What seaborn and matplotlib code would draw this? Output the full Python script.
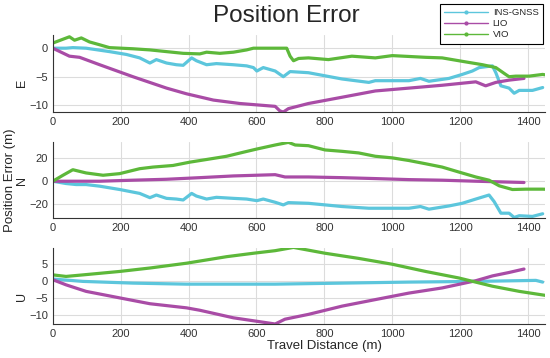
import pandas as pd
import seaborn as sns
from matplotlib import pyplot as plt
from matplotlib.lines import Line2D

methods = ['INS-GNSS', 'LIO', 'VIO']
colors = ['#5cc6dc', '#a94ca6', '#5db83a']

# E panel
e_ins_x = [0, 39, 59, 98, 167, 217, 256, 286, 305, 335, 364, 384, 409, 423, 453, 482, 532, 571, 591, 601, 620,
           655, 679, 699, 753, 852, 931, 950, 1049, 1083, 1108, 1167, 1206, 1236, 1256, 1295, 1305, 1320, 1344,
           1359, 1374, 1413, 1443]
e_ins_y = [0, 0, 0.1, 0, -0.6, -1.1, -1.7, -2.6, -2.0, -2.6, -2.9, -3.0, -1.7, -2.2, -2.9, -2.7, -2.9, -3.1, -3.4,
           -4.0, -3.4, -4.0, -5.0, -4.1, -4.3, -5.4, -6.0, -5.7, -5.7, -5.3, -5.8, -5.3, -4.6, -4.0, -3.4, -3.1,
           -4.3, -6.6, -7.0, -7.9, -7.4, -7.4, -6.9]
e_lio_x = [0, 49, 79, 138, 236, 335, 394, 473, 551, 655, 669, 679, 694, 753, 852, 950, 1049, 1147, 1246, 1275,
           1305, 1344, 1388]
e_lio_y = [0, -1.4, -1.6, -2.9, -5.0, -7.0, -8.0, -9.1, -9.7, -10.2, -11.0, -11.2, -10.6, -9.7, -8.6, -7.5, -7.0,
           -6.5, -5.9, -6.6, -6.0, -5.6, -5.3]
e_vio_x = [0, 49, 64, 84, 108, 138, 167, 236, 286, 335, 384, 433, 453, 492, 532, 571, 591, 655, 689, 699, 709,
           724, 753, 812, 881, 950, 1000, 1098, 1147, 1206, 1266, 1305, 1334, 1344, 1364, 1403, 1443, 1453]
e_vio_y = [0.9, 2.0, 1.4, 1.8, 1.1, 0.6, 0.1, -0.1, -0.3, -0.6, -0.9, -1.0, -0.7, -0.9, -0.7, -0.3, 0, 0, 0, -1.4,
           -2.2, -1.8, -1.7, -2.0, -1.4, -1.7, -1.3, -1.6, -1.7, -2.3, -2.9, -3.4, -4.6, -5.0, -4.9, -4.9, -4.6, -4.7]

# N panel
n_ins_x = [0, 39, 69, 98, 138, 197, 256, 286, 305, 335, 364, 384, 409, 423, 453, 482, 532, 571, 601, 620, 655,
           679, 694, 753, 852, 931, 1049, 1083, 1108, 1167, 1206, 1246, 1285, 1300, 1320, 1344, 1359, 1374, 1413,
           1443]
n_ins_y = [0, -2.0, -2.9, -2.9, -4.3, -7.2, -10.6, -14.3, -12.0, -14.9, -15.5, -16.3, -10.6, -12.9, -15.5, -14.0,
           -14.9, -15.5, -16.9, -15.5, -18.3, -20.6, -18.6, -19.2, -22.0, -23.5, -23.5, -22.0, -24.3, -21.5, -19.2,
           -15.5, -12.0, -17.7, -27.8, -27.8, -31.5, -30.0, -30.6, -28.3]
n_lio_x = [0, 138, 236, 335, 433, 532, 655, 684, 753, 852, 950, 1049, 1147, 1246, 1388]
n_lio_y = [0, 0, 0.9, 1.7, 3.1, 4.6, 5.7, 3.7, 3.7, 3.1, 2.3, 1.4, 0.9, 0, -1.1]
n_vio_x = [0, 30, 59, 98, 148, 197, 256, 295, 354, 404, 453, 512, 561, 601, 655, 694, 714, 753, 802, 852, 901,
           950, 1000, 1049, 1098, 1147, 1196, 1246, 1285, 1315, 1354, 1394, 1443, 1453]
n_vio_y = [0, 5.2, 10.0, 7.2, 5.2, 6.6, 10.9, 12.3, 13.7, 16.6, 18.9, 21.7, 25.2, 28.0, 31.5, 33.8, 31.5, 30.9,
           27.2, 26.0, 24.6, 21.7, 20.3, 18.0, 15.2, 12.3, 8.0, 3.7, 0.9, -4.0, -7.2, -6.9, -6.9, -7.0]

# U panel
u_ins_x = [0, 89, 236, 394, 655, 852, 1049, 1246, 1423, 1443]
u_ins_y = [0.5, -0.2, -0.7, -1.0, -1.0, -0.7, -0.4, -0.2, 0.1, -0.4]
u_lio_x = [0, 39, 98, 197, 286, 394, 433, 532, 655, 684, 753, 852, 950, 1049, 1147, 1246, 1295, 1344, 1388]
u_lio_y = [0.3, -1.2, -3.1, -5.0, -6.7, -7.9, -8.6, -10.8, -12.6, -11.2, -9.8, -7.4, -5.5, -3.6, -2.1, 0, 1.4,
           2.4, 3.4]
u_vio_x = [0, 39, 89, 197, 286, 394, 512, 591, 655, 709, 802, 901, 1000, 1098, 1196, 1295, 1374, 1453]
u_vio_y = [1.7, 1.25, 1.7, 2.7, 3.7, 5.1, 7.0, 8.0, 8.75, 9.7, 8.0, 6.5, 4.8, 2.7, 0.8, -1.6, -3.1, -4.3]

panels = ['E', 'N', 'U']
series = {
    'E': [(e_ins_x, e_ins_y), (e_lio_x, e_lio_y), (e_vio_x, e_vio_y)],
    'N': [(n_ins_x, n_ins_y), (n_lio_x, n_lio_y), (n_vio_x, n_vio_y)],
    'U': [(u_ins_x, u_ins_y), (u_lio_x, u_lio_y), (u_vio_x, u_vio_y)],
}
ylims = {'E': (-11.2, 2.3), 'N': (-32, 34), 'U': (-12.6, 9.5)}
yticks = {'E': [-10, -5, 0], 'N': [-20, 0, 20], 'U': [-10, -5, 0, 5]}
label_y = {'E': 0.38, 'N': 0.49, 'U': 0.36}

rows = []
for p in panels:
    for m, (xs, ys) in zip(methods, series[p]):
        for x, y in zip(xs, ys):
            rows.append({'panel': p, 'method': m, 'x': x, 'y': y})
df = pd.DataFrame(rows)

sns.set_style('whitegrid', {'grid.color': '#dcdcdc', 'axes.edgecolor': '#333333'})
plt.rcParams['font.family'] = ['Liberation Sans', 'DejaVu Sans']

fig = plt.figure(figsize=(5.5, 3.58), dpi=100)
boxes = [(0.096, 0.687, 0.895, 0.215), (0.096, 0.391, 0.895, 0.212), (0.096, 0.095, 0.895, 0.212)]
palette = dict(zip(methods, colors))

for p, box in zip(panels, boxes):
    ax = fig.add_axes(box)
    sns.lineplot(data=df[df.panel == p], x='x', y='y', hue='method', palette=palette,
                 estimator=None, sort=False, linewidth=2.3, legend=False, ax=ax)
    ax.set_xlim(0, 1450)
    ax.set_ylim(*ylims[p])
    ax.set_xticks(range(0, 1401, 200))
    ax.set_yticks(yticks[p])
    ax.set_xlabel('')
    ax.set_ylabel(p, fontsize=9)
    ax.yaxis.set_label_coords(-0.05, label_y[p])
    ax.tick_params(labelsize=8, colors='#333333', direction='in', length=2, width=0.6)
    ax.grid(True, linewidth=0.8)
    sns.despine(ax=ax, top=True, right=True)
    for s in ['left', 'bottom']:
        ax.spines[s].set_linewidth(0.8)

fig.text(0.521, 0.939, 'Position Error', fontsize=17.5, ha='center', va='baseline')
fig.text(0.59, 0.034, 'Travel Distance (m)', fontsize=9.5, ha='center', va='center')
fig.text(0.018, 0.497, 'Position Error (m)', fontsize=9.5, ha='center', va='center', rotation=90)

handles = [Line2D([0], [0], color=c, lw=1.0, marker='.', markersize=4) for c in colors]
leg = fig.legend(handles, methods, loc='upper right', bbox_to_anchor=(0.987, 0.989), fontsize=6.8,
                 numpoints=1, handlelength=4.6, handletextpad=0.55, labelspacing=0.22, borderpad=0.45,
                 fancybox=False, framealpha=1, edgecolor='black', borderaxespad=0)
leg.get_frame().set_linewidth(0.8)

fig.savefig('out.png', dpi=100)
